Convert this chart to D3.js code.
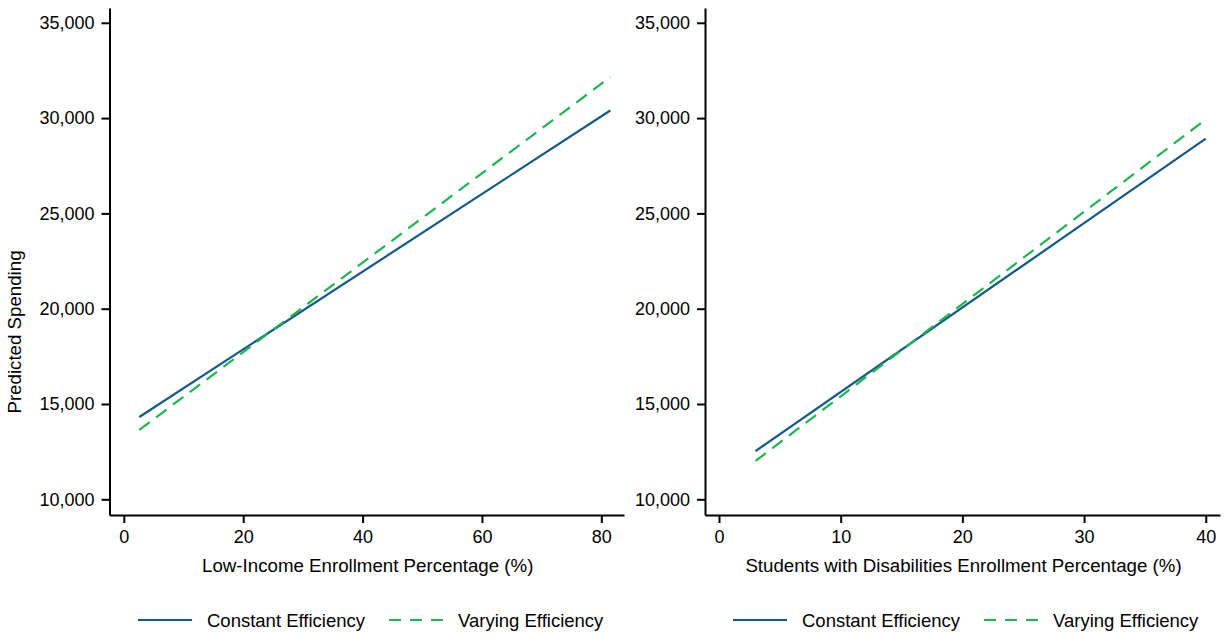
<!DOCTYPE html>
<html>
<head>
<meta charset="utf-8">
<script src="https://cdn.jsdelivr.net/npm/d3@7"></script>
<style>
  body { margin: 0; background: #fff; }
  svg { display: block; font-family: Arial, "Liberation Sans", sans-serif; }
  .axis path, .axis line { stroke: #000; stroke-width: 2; }
  .axis text { font-size: 18px; fill: #000; }
</style>
</head>
<body>
<div id="chart"></div>
<script>
// data (line end points)
var lowIncomePct = [2.6, 81.5];
var lowIncomeConstant = [14320, 30400];
var lowIncomeVarying = [13640, 32150];

var swdPct = [3, 40];
var swdConstant = [12530, 28920];
var swdVarying = [12010, 29930];

var yTicks = [10000, 15000, 20000, 25000, 30000, 35000];
var lowIncomeTicks = [0, 20, 40, 60, 80];
var swdTicks = [0, 10, 20, 30, 40];

var seriesNames = ["Constant Efficiency", "Varying Efficiency"];

var width = 1225,
    height = 633;

var blue = "#125a8a",
    green = "#1db54f";

var svg = d3.select("#chart")
    .append("svg")
    .attr("width", width)
    .attr("height", height);

var y = d3.scaleLinear().domain([9176, 35776]).range([515, 8]);

var panels = [
    { x0: 109.5, x1: 624, domain: [-2.4, 83.8], ticks: lowIncomeTicks,
      xs: lowIncomePct, c: lowIncomeConstant, v: lowIncomeVarying,
      title: "Low-Income Enrollment Percentage (%)", legendX: 138, yTitle: true },
    { x0: 705, x1: 1220, domain: [-1.15, 41.17], ticks: swdTicks,
      xs: swdPct, c: swdConstant, v: swdVarying,
      title: "Students with Disabilities Enrollment Percentage (%)", legendX: 733, yTitle: false }
];

panels.forEach(function(p) {
    var x = d3.scaleLinear().domain(p.domain).range([p.x0, p.x1]);
    var g = svg.append("g");

    g.append("g")
        .attr("class", "axis")
        .attr("transform", "translate(" + p.x0 + ",0)")
        .call(d3.axisLeft(y).tickValues(yTicks).tickFormat(d3.format(",")).tickSize(8).tickPadding(7).tickSizeOuter(0));

    g.append("g")
        .attr("class", "axis")
        .attr("transform", "translate(0,515)")
        .call(d3.axisBottom(x).tickValues(p.ticks).tickFormat(d3.format("d")).tickSize(8).tickPadding(7).tickSizeOuter(0));

    var line = d3.line()
        .x(function(d) { return x(d[0]); })
        .y(function(d) { return y(d[1]); });

    g.append("path")
        .datum(d3.zip(p.xs, p.c))
        .attr("d", line)
        .attr("fill", "none")
        .attr("stroke", blue)
        .attr("stroke-width", 2.2);

    g.append("path")
        .datum(d3.zip(p.xs, p.v))
        .attr("d", line)
        .attr("fill", "none")
        .attr("stroke", green)
        .attr("stroke-width", 2.2)
        .attr("stroke-dasharray", "13,8");

    g.append("text")
        .attr("x", (p.x0 + p.x1) / 2 + 1)
        .attr("y", 572)
        .attr("text-anchor", "middle")
        .style("font-size", "18.7px")
        .text(p.title);

    if (p.yTitle) {
        g.append("text")
            .attr("transform", "translate(21,332) rotate(-90)")
            .attr("text-anchor", "middle")
            .style("font-size", "18.7px")
            .text("Predicted Spending");
    }

    // legend
    var lg = g.append("g").attr("transform", "translate(" + p.legendX + ",620)");
    lg.append("line").attr("x1", 0).attr("x2", 54).attr("stroke", blue).attr("stroke-width", 2.2);
    lg.append("text").attr("x", 69).attr("y", 6.5).style("font-size", "18.5px").text(seriesNames[0]);
    lg.append("line").attr("x1", 251).attr("x2", 305).attr("stroke", green).attr("stroke-width", 2.2)
        .attr("stroke-dasharray", "12,9");
    lg.append("text").attr("x", 320).attr("y", 6.5).style("font-size", "18.5px").text(seriesNames[1]);
});
</script>
</body>
</html>
